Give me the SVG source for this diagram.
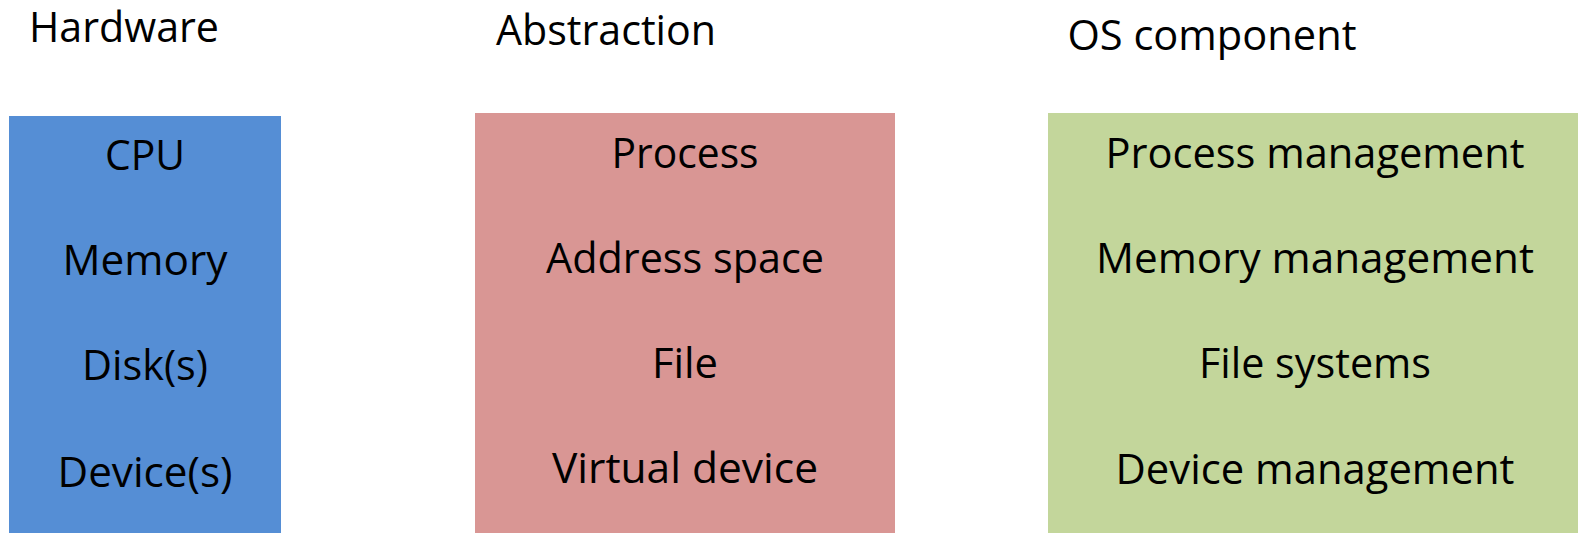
<svg xmlns="http://www.w3.org/2000/svg" width="1578" height="533" viewBox="0 0 1578 533">
  <style>
    text { font-family: "Open Sans", "Liberation Sans", sans-serif; font-size: 42px; fill: #000; text-anchor: middle; }
    .hw { fill: #558ED5; }
    .ab { fill: #D99694; }
    .os { fill: #C3D69B; }
  </style>
  <rect width="1578" height="533" fill="#FFFFFF"/>

  <!-- column headings -->
  <g id="headings">
    <text x="124" y="42" textLength="190" lengthAdjust="spacingAndGlyphs">Hardware</text>
    <text x="606" y="45" textLength="220" lengthAdjust="spacingAndGlyphs">Abstraction</text>
    <text x="1212" y="50" textLength="289" lengthAdjust="spacingAndGlyphs">OS component</text>
  </g>

  <!-- hardware column -->
  <g id="hardware">
    <rect class="hw" x="9" y="116" width="272" height="417"/>
    <text x="145" y="170" textLength="80" lengthAdjust="spacingAndGlyphs">CPU</text>
    <text x="145" y="275" textLength="165" lengthAdjust="spacingAndGlyphs">Memory</text>
    <text x="145" y="380" textLength="126" lengthAdjust="spacingAndGlyphs">Disk(s)</text>
    <text x="145" y="487" textLength="175" lengthAdjust="spacingAndGlyphs">Device(s)</text>
  </g>

  <!-- abstraction column -->
  <g id="abstraction">
    <rect class="ab" x="475" y="113" width="420" height="420"/>
    <text x="685" y="168" textLength="147" lengthAdjust="spacingAndGlyphs">Process</text>
    <text x="685" y="273" textLength="278" lengthAdjust="spacingAndGlyphs">Address space</text>
    <text x="685" y="378" textLength="66" lengthAdjust="spacingAndGlyphs">File</text>
    <text x="685" y="483" textLength="266" lengthAdjust="spacingAndGlyphs">Virtual device</text>
  </g>

  <!-- OS component column -->
  <g id="os-component">
    <rect class="os" x="1048" y="113" width="530" height="420"/>
    <text x="1315" y="168" textLength="419" lengthAdjust="spacingAndGlyphs">Process management</text>
    <text x="1315" y="273" textLength="438" lengthAdjust="spacingAndGlyphs">Memory management</text>
    <text x="1315" y="378" textLength="232" lengthAdjust="spacingAndGlyphs">File systems</text>
    <text x="1315" y="484" textLength="399" lengthAdjust="spacingAndGlyphs">Device management</text>
  </g>

  <!-- no connectors in this figure -->
  <g id="connectors"/>
</svg>
